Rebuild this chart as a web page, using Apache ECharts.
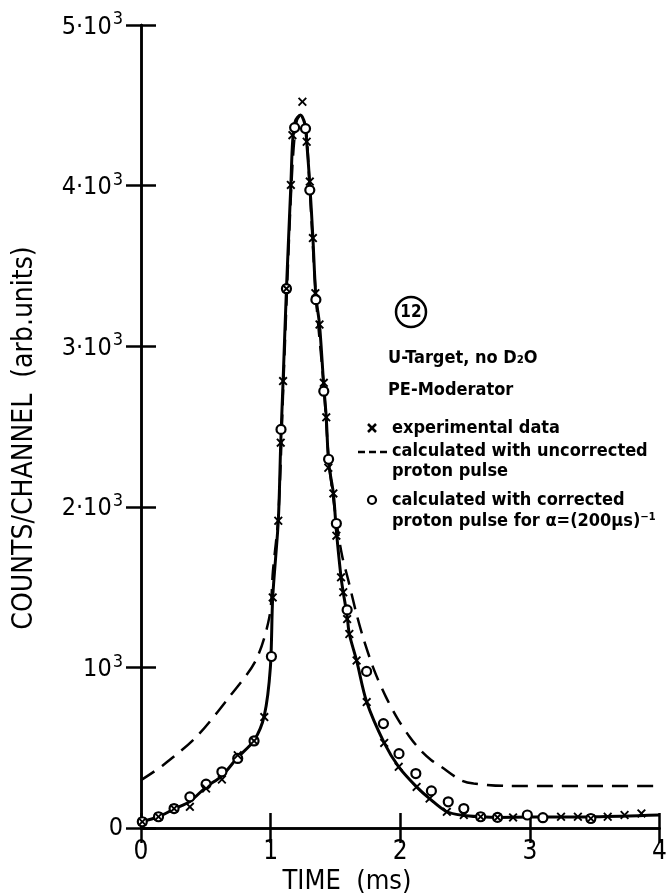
<!DOCTYPE html>
<html>
<head>
<meta charset="utf-8">
<script src="https://cdn.jsdelivr.net/npm/echarts@6/dist/echarts.min.js"></script>
<style>
  html, body { margin: 0; padding: 0; background: #fff; }
  #chart { width: 670px; height: 896px; }
</style>
</head>
<body>
<div id="chart"></div>
<script>
// experimental data (x markers), [time ms, counts]
const expData = [
  [0.01, 39], [0.135, 70], [0.255, 121], [0.377, 132], [0.502, 246], [0.624, 302],
  [0.746, 453], [0.872, 542], [0.951, 691], [1.016, 1436], [1.059, 1913], [1.078, 2399],
  [1.096, 2783], [1.122, 3358], [1.156, 4004], [1.168, 4314], [1.245, 4522], [1.278, 4273],
  [1.302, 4025], [1.326, 3673], [1.345, 3330], [1.377, 3135], [1.41, 2772], [1.429, 2557],
  [1.445, 2243], [1.484, 2083], [1.507, 1820], [1.543, 1561], [1.56, 1468], [1.59, 1301],
  [1.607, 1208], [1.663, 1043], [1.741, 784], [1.876, 530], [1.988, 381], [2.126, 256],
  [2.226, 183], [2.359, 101], [2.49, 81], [2.62, 70], [2.75, 66], [2.87, 66],
  [3.24, 70], [3.37, 70], [3.47, 59], [3.6, 70], [3.73, 81], [3.86, 91]
]
// calculated with corrected proton pulse (open circles)
const corrData = [
  [0.01, 39], [0.135, 70], [0.255, 121], [0.377, 194], [0.502, 273], [0.624, 350],
  [0.746, 433], [0.872, 542], [1.006, 1068], [1.08, 2482], [1.122, 3358], [1.185, 4361],
  [1.269, 4355], [1.302, 3972], [1.349, 3290], [1.41, 2720], [1.447, 2296], [1.507, 1896],
  [1.59, 1358], [1.74, 975], [1.87, 650], [1.99, 463], [2.12, 339], [2.24, 231],
  [2.37, 163], [2.49, 121], [2.62, 70], [2.75, 66], [2.98, 81], [3.1, 64], [3.47, 59]
]
// solid curve through the points
const solidLine = [
  [0, 40], [0.135, 70], [0.255, 118], [0.377, 165], [0.502, 255], [0.624, 325],
  [0.746, 440], [0.872, 545], [0.951, 700], [0.998, 1000], [1.016, 1436], [1.059, 1913],
  [1.078, 2399], [1.096, 2783], [1.122, 3358], [1.156, 4004], [1.17, 4280], [1.19, 4400],
  [1.23, 4440], [1.265, 4380], [1.278, 4273], [1.302, 4010], [1.326, 3673], [1.349, 3310],
  [1.377, 3135], [1.41, 2750], [1.429, 2557], [1.448, 2270], [1.484, 2083], [1.507, 1850],
  [1.543, 1561], [1.56, 1468], [1.59, 1320], [1.607, 1208], [1.663, 1043], [1.741, 784],
  [1.876, 530], [1.988, 381], [2.126, 256], [2.226, 183], [2.359, 101], [2.49, 78],
  [2.62, 70], [2.75, 66], [3.0, 68], [3.5, 70], [4.0, 81]
]
// calculated with uncorrected proton pulse (dashed)
const uncorrLine = [
  [0, 298], [0.17, 391], [0.425, 566], [0.68, 815], [0.885, 1043], [0.99, 1313],
  [1.018, 1602], [1.06, 1950], [1.1, 2800], [1.16, 4000], [1.195, 4380], [1.23, 4440],
  [1.27, 4370], [1.3, 4000], [1.35, 3300], [1.41, 2750], [1.45, 2280], [1.5, 1950],
  [1.55, 1700], [1.6, 1540], [1.66, 1340], [1.72, 1168], [1.8, 980], [1.89, 815],
  [1.98, 680], [2.07, 570], [2.15, 490], [2.24, 422], [2.317, 381], [2.467, 298],
  [2.566, 277], [2.82, 262], [4.0, 261]
]
const xTicks = [0, 1, 2, 3, 4]
const yTicks = [0, 1000, 2000, 3000, 4000, 5000]

const FONT = "'DejaVu Sans Condensed', 'Liberation Sans Narrow', 'DejaVu Sans', sans-serif"
const CROSS = 'path://M0,1.5L1.5,0L5,3.5L8.5,0L10,1.5L6.5,5L10,8.5L8.5,10L5,6.5L1.5,10L0,8.5L3.5,5Z'

const yLabel = (v) => {
  if (v === 0) return '{b|0}'
  if (v === 1000) return '{b|10}{s|3}'
  return '{b|' + (v / 1000) + '·10}{s|3}'
}

const axisCommon = {
  type: 'value',
  axisLine: { show: true, lineStyle: { color: '#000', width: 2.5 } },
  axisTick: { show: true, inside: true, length: 15, lineStyle: { color: '#000', width: 2.5 } },
  splitLine: { show: false }
}

const legendText = (x, y, text) => ({
  type: 'text', x: x, y: y,
  style: { text: text, fill: '#000', font: 'bold 18px ' + FONT, verticalAlign: 'middle' }
})

const chart = echarts.init(document.getElementById('chart'), null, { renderer: 'canvas' })
chart.setOption({
  backgroundColor: '#fff',
  animation: false,
  grid: { left: 141, right: 3, top: 25, bottom: 68 },
  xAxis: [
    {
      ...axisCommon,
      position: 'bottom',
      min: xTicks[0], max: xTicks[xTicks.length - 1], interval: 1,
      axisLabel: { color: '#000', fontSize: 26, fontFamily: FONT, margin: 11 }
    },
    {
      ...axisCommon,
      position: 'top',
      min: xTicks[0], max: xTicks[xTicks.length - 1], interval: 1,
      axisLabel: { show: false }
    }
  ],
  yAxis: [
    {
      ...axisCommon,
      position: 'left',
      min: yTicks[0], max: yTicks[yTicks.length - 1], interval: 1000,
      axisLabel: {
        color: '#000', fontFamily: FONT, margin: 18, formatter: yLabel,
        rich: {
          b: { fontSize: 25, fontFamily: FONT, color: '#000', verticalAlign: 'bottom' },
          s: { fontSize: 18, fontFamily: FONT, color: '#000', verticalAlign: 'bottom', padding: [0, 0, 11, 1] }
        }
      }
    },
    {
      ...axisCommon,
      position: 'right',
      min: yTicks[0], max: yTicks[yTicks.length - 1], interval: 1000,
      axisLabel: { show: false }
    }
  ],
  series: [
    {
      name: 'uncorrected',
      type: 'line',
      data: uncorrLine,
      smooth: 0.3,
      showSymbol: false,
      lineStyle: { color: '#000', width: 2.5, type: [16, 9] },
      z: 2
    },
    {
      name: 'fit',
      type: 'line',
      data: solidLine,
      smooth: 0.3,
      showSymbol: false,
      lineStyle: { color: '#000', width: 3 },
      z: 3
    },
    {
      name: 'corrected',
      type: 'scatter',
      data: corrData,
      symbol: 'circle',
      symbolSize: 9,
      itemStyle: { color: '#fff', borderColor: '#000', borderWidth: 2.2, opacity: 1 },
      z: 4
    },
    {
      name: 'experimental data',
      type: 'scatter',
      data: expData,
      symbol: CROSS,
      symbolSize: 9,
      itemStyle: { color: '#000', opacity: 1 },
      z: 5
    }
  ],
  graphic: [
    {
      type: 'text', x: 25, y: 438, rotation: Math.PI / 2,
      style: {
        text: 'COUNTS/CHANNEL  (arb.units)', fill: '#000',
        font: '28px ' + FONT, align: 'center', verticalAlign: 'middle'
      }
    },
    {
      type: 'text', x: 347, y: 882,
      style: { text: 'TIME  (ms)', fill: '#000', font: '27px ' + FONT, align: 'center', verticalAlign: 'middle' }
    },
    { type: 'circle', shape: { cx: 411, cy: 312, r: 15 }, style: { fill: 'none', stroke: '#000', lineWidth: 2.5 } },
    { type: 'text', x: 411, y: 313, style: { text: '12', fill: '#000', font: 'bold 17px ' + FONT, align: 'center', verticalAlign: 'middle' } },
    legendText(388, 358, 'U-Target, no D₂O'),
    legendText(388, 390, 'PE-Moderator'),
    { type: 'line', shape: { x1: 368, y1: 424, x2: 376, y2: 432 }, style: { stroke: '#000', lineWidth: 2.5 } },
    { type: 'line', shape: { x1: 376, y1: 424, x2: 368, y2: 432 }, style: { stroke: '#000', lineWidth: 2.5 } },
    legendText(392, 428, 'experimental data'),
    { type: 'line', shape: { x1: 358, y1: 452, x2: 388, y2: 452 }, style: { stroke: '#000', lineWidth: 2.5, lineDash: [7, 4] } },
    legendText(392, 451, 'calculated with uncorrected'),
    legendText(392, 471, 'proton pulse'),
    { type: 'circle', shape: { cx: 372, cy: 500, r: 4 }, style: { fill: 'none', stroke: '#000', lineWidth: 2.2 } },
    legendText(392, 500, 'calculated with corrected'),
    legendText(392, 521, 'proton pulse for α=(200μs)⁻¹')
  ]
})
</script>
</body>
</html>
